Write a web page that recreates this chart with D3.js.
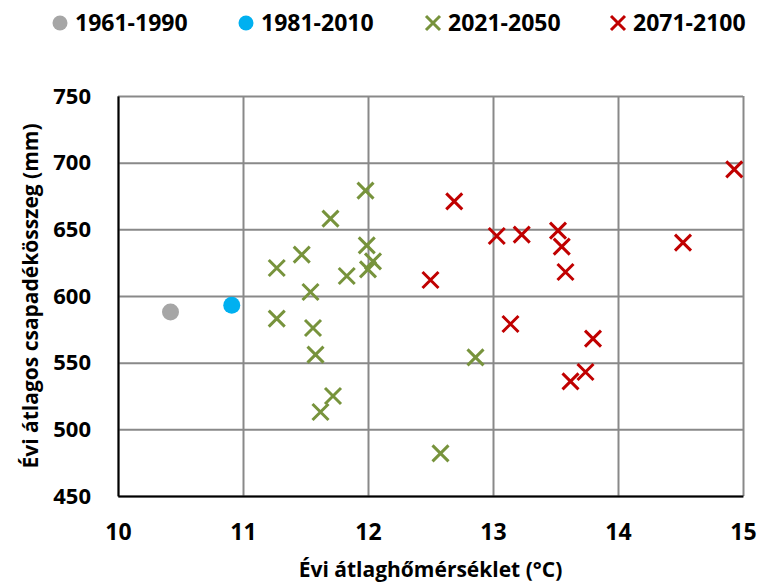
<!DOCTYPE html>
<html>
<head>
<meta charset="utf-8">
<script src="https://cdn.jsdelivr.net/npm/d3@7"></script>
<style>
  body { margin: 0; background: #fff; }
  svg text { font-family: "Open Sans", sans-serif; font-weight: bold; fill: #000; }
</style>
</head>
<body>
<script>
// series (temperature °C, precipitation mm)
var periods = ["1961-1990", "1981-2010", "2021-2050", "2071-2100"];
var temp6190 = [10.42];
var prec6190 = [588];
var temp8110 = [10.91];
var prec8110 = [593];
var temp2150 = [11.98, 11.70, 11.99, 12.04, 12.00, 11.47, 11.27, 11.83, 11.54, 11.27, 11.56, 11.58, 11.72, 11.62, 12.86, 12.58];
var prec2150 = [679, 658, 638, 626, 620, 631, 621, 615, 603, 583, 576, 556, 525, 513, 554, 482];
var temp7100 = [14.93, 12.69, 13.03, 13.23, 13.52, 13.55, 13.58, 14.52, 12.50, 13.14, 13.80, 13.74, 13.62];
var prec7100 = [695, 671, 645, 646, 649, 637, 618, 640, 612, 579, 568, 543, 536];
var xTicks = [10, 11, 12, 13, 14, 15];
var yTicks = [450, 500, 550, 600, 650, 700, 750];

const w = 758,
      h = 582,
      pLeft = 118,
      pRight = 743,
      pTop = 96,
      pBottom = 496;

const colors = ["#a6a6a6", "#00b0f0", "#77933c", "#c00000"];

const xScale = d3.scaleLinear().domain([10, 15]).range([pLeft, pRight]);
const yScale = d3.scaleLinear().domain([450, 750]).range([pBottom, pTop]);

const svg = d3.select("body")
              .append("svg")
              .attr("width", w)
              .attr("height", h);

// gridlines
svg.append("g")
   .attr("class", "grid")
   .attr("transform", "translate(0," + pBottom + ")")
   .call(d3.axisBottom(xScale).tickValues(xTicks).tickSize(-(pBottom - pTop)).tickFormat(""))
   .call(g => g.select(".domain").remove())
   .selectAll("line").attr("stroke", "#898989").attr("stroke-width", 2);

svg.append("g")
   .attr("class", "grid")
   .attr("transform", "translate(" + pLeft + ",0)")
   .call(d3.axisLeft(yScale).tickValues(yTicks).tickSize(-(pRight - pLeft)).tickFormat(""))
   .call(g => g.select(".domain").remove())
   .selectAll("line").attr("stroke", "#898989").attr("stroke-width", 2);

// axes
var xAxis = svg.append("g")
   .attr("transform", "translate(0," + pBottom + ")")
   .call(d3.axisBottom(xScale).tickValues(xTicks).tickSize(0).tickPadding(28).tickFormat(d3.format("d")));
xAxis.select(".domain").attr("stroke", "#000").attr("stroke-width", 2);
xAxis.selectAll("text").style("font-size", "23px");

var yAxis = svg.append("g")
   .attr("transform", "translate(" + pLeft + ",0)")
   .call(d3.axisLeft(yScale).tickValues(yTicks).tickSize(0).tickPadding(27));
yAxis.select(".domain").attr("stroke", "#000").attr("stroke-width", 2);
yAxis.selectAll("text").style("font-size", "22px");

// axis titles
svg.append("text")
   .text("Évi átlaghőmérséklet (°C)")
   .attr("x", (pLeft + pRight) / 2)
   .attr("y", 577)
   .attr("text-anchor", "middle")
   .style("font-size", "21px");

svg.append("text")
   .text("Évi átlagos csapadékösszeg (mm)")
   .attr("transform", "translate(38," + (pTop + pBottom) / 2 + ")rotate(-90)")
   .attr("text-anchor", "middle")
   .style("font-size", "21px");

// markers
function crossPath(s) {
  return "M" + (-s) + "," + (-s) + "L" + s + "," + s + "M" + (-s) + "," + s + "L" + s + "," + (-s);
}

function drawDots(xs, ys, color) {
  svg.append("g").selectAll("circle")
     .data(xs.map((x, i) => [x, ys[i]]))
     .enter()
     .append("circle")
     .attr("cx", d => xScale(d[0]))
     .attr("cy", d => yScale(d[1]))
     .attr("r", 8.5)
     .attr("fill", color);
}

function drawCrosses(xs, ys, color) {
  svg.append("g").selectAll("path")
     .data(xs.map((x, i) => [x, ys[i]]))
     .enter()
     .append("path")
     .attr("d", crossPath(8))
     .attr("transform", d => "translate(" + xScale(d[0]) + "," + yScale(d[1]) + ")")
     .attr("stroke", color)
     .attr("stroke-width", 3)
     .attr("fill", "none");
}

drawDots(temp6190, prec6190, colors[0]);
drawDots(temp8110, prec8110, colors[1]);
drawCrosses(temp2150, prec2150, colors[2]);
drawCrosses(temp7100, prec7100, colors[3]);

// legend
var legendX = [60, 246, 433, 618];
var legend = svg.append("g").attr("id", "legend");

periods.forEach(function(p, i) {
  if (i < 2) {
    legend.append("circle")
          .attr("cx", legendX[i])
          .attr("cy", 23)
          .attr("r", 7.5)
          .attr("fill", colors[i]);
  } else {
    legend.append("path")
          .attr("d", crossPath(7))
          .attr("transform", "translate(" + legendX[i] + ",23)")
          .attr("stroke", colors[i])
          .attr("stroke-width", 3)
          .attr("fill", "none");
  }
  legend.append("text")
        .text(p)
        .attr("x", legendX[i] + 15)
        .attr("y", 31)
        .style("font-size", "23px");
});
</script>
</body>
</html>
